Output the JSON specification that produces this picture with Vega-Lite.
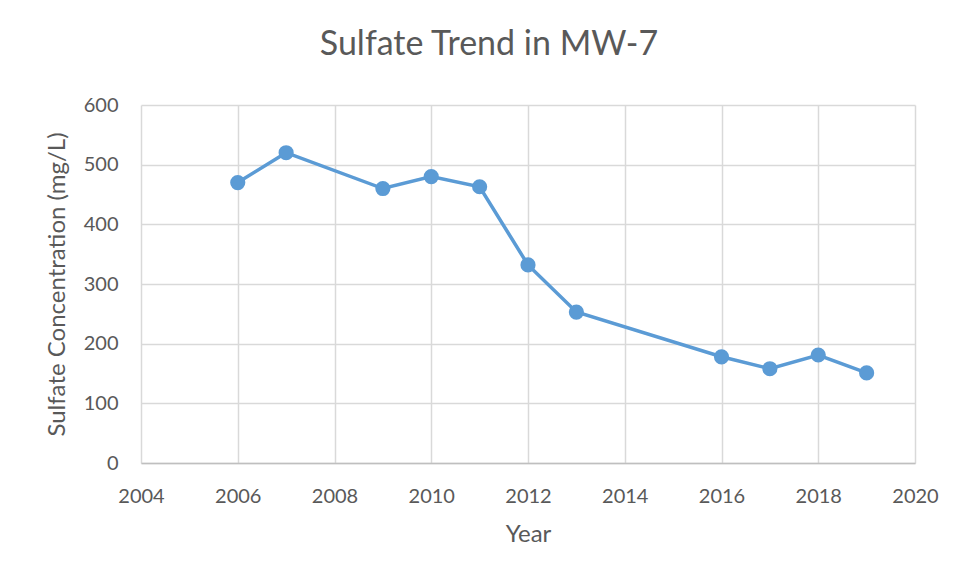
{
  "$schema": "https://vega.github.io/schema/vega-lite/v6.json",
  "autosize": {"type": "none"},
  "width": 774,
  "height": 358,
  "padding": {"left": 141, "top": 105, "right": 43, "bottom": 112},
  "background": "white",
  "title": {
    "text": "Sulfate Trend in MW-7",
    "font": "Lato",
    "fontSize": 34,
    "fontWeight": "normal",
    "color": "#595959",
    "anchor": "middle",
    "dx": -39,
    "offset": 33
  },
  "config": {
    "view": {"stroke": null},
    "axis": {
      "labelFont": "Lato",
      "titleFont": "Lato",
      "labelFontSize": 20,
      "titleFontSize": 24,
      "labelColor": "#595959",
      "titleColor": "#595959",
      "titleFontWeight": "normal",
      "gridColor": "#D9D9D9",
      "gridWidth": 1.5,
      "domainColor": "#BFBFBF",
      "domainWidth": 1.5,
      "ticks": false,
      "labelFlush": false,
      "labelOverlap": false
    }
  },
  "data": {
    "values": [
      {"Year": 2006, "Sulfate": 470},
      {"Year": 2007, "Sulfate": 520},
      {"Year": 2009, "Sulfate": 460},
      {"Year": 2010, "Sulfate": 480},
      {"Year": 2011, "Sulfate": 463},
      {"Year": 2012, "Sulfate": 332},
      {"Year": 2013, "Sulfate": 253},
      {"Year": 2016, "Sulfate": 178},
      {"Year": 2017, "Sulfate": 158},
      {"Year": 2018, "Sulfate": 181},
      {"Year": 2019, "Sulfate": 151}
    ]
  },
  "encoding": {
    "x": {
      "field": "Year",
      "type": "quantitative",
      "scale": {"domain": [2004, 2020], "nice": false, "zero": false},
      "axis": {
        "values": [2004, 2006, 2008, 2010, 2012, 2014, 2016, 2018, 2020],
        "format": "d",
        "title": "Year",
        "labelPadding": 23,
        "titlePadding": 16,
        "domain": true,
        "grid": true
      }
    },
    "y": {
      "field": "Sulfate",
      "type": "quantitative",
      "scale": {"domain": [0, 600], "nice": false},
      "axis": {
        "values": [0, 100, 200, 300, 400, 500, 600],
        "title": "Sulfate Concentration (mg/L)",
        "labelPadding": 23,
        "titlePadding": 14,
        "domain": false,
        "grid": true
      }
    }
  },
  "layer": [
    {
      "mark": {"type": "line", "color": "#5B9BD5", "strokeWidth": 3.5},
      "encoding": {}
    },
    {
      "mark": {"type": "point", "shape": "circle", "filled": true, "opacity": 1, "color": "#5B9BD5", "size": 230},
      "encoding": {}
    }
  ]
}
